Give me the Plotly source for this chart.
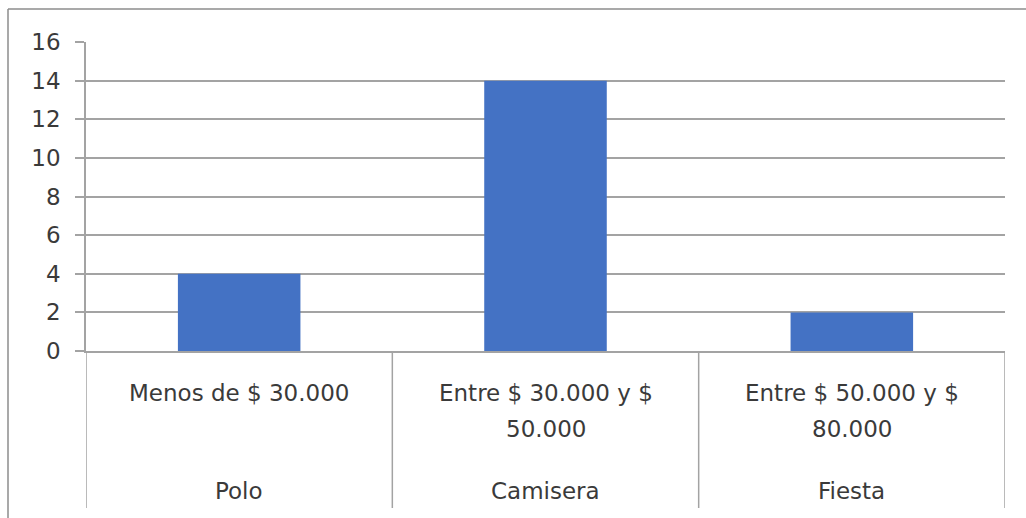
import plotly.graph_objects as go

# Price range (inner category level) and garment type (outer level)
price_ranges = ["Menos de $ 30.000", "Entre $ 30.000 y $\n50.000", "Entre $ 50.000 y $\n80.000"]
garment_types = ["Polo", "Camisera", "Fiesta"]
counts = [4, 14, 2]
y_ticks = [0, 2, 4, 6, 8, 10, 12, 14, 16]

W, H = 1026, 518
PLOT_L, PLOT_R, PLOT_T, PLOT_B = 86, 1005, 42, 351
plot_w = PLOT_R - PLOT_L
plot_h = PLOT_B - PLOT_T

GRID = "#a3a3a3"
TEXT = "#3a3a3a"
FONT = "DejaVu Sans"
FSIZE = 23


def py_to_paper(py):
    return (PLOT_B - py) / plot_h


def px_to_paper(px):
    return (px - PLOT_L) / plot_w


xs = list(range(len(counts)))

fig = go.Figure(
    go.Bar(
        x=xs,
        y=counts,
        marker=dict(color="#4472C4", line=dict(width=0)),
        width=0.4,
        hoverinfo="skip",
    )
)

shapes = []
# Category separators hanging below the axis
for b in [i - 0.5 for i in range(len(counts) + 1)]:
    shapes.append(dict(type="line", xref="x", yref="paper", x0=b, x1=b,
                       y0=0, y1=py_to_paper(508), line=dict(color=GRID, width=1.5)))
# Chart-area border (top and left edges)
shapes.append(dict(type="line", xref="paper", yref="paper",
                   x0=px_to_paper(8), x1=px_to_paper(1040),
                   y0=py_to_paper(9), y1=py_to_paper(9),
                   line=dict(color="#8c8c8c", width=1.5)))
shapes.append(dict(type="line", xref="paper", yref="paper",
                   x0=px_to_paper(8), x1=px_to_paper(8),
                   y0=py_to_paper(9), y1=py_to_paper(530),
                   line=dict(color="#8c8c8c", width=1.5)))

annotations = []
line_rows = [393, 429]
for i, label in enumerate(price_ranges):
    for j, part in enumerate(label.split("\n")):
        annotations.append(dict(x=xs[i], y=py_to_paper(line_rows[j]), xref="x", yref="paper",
                                text=part, showarrow=False, xanchor="center", yanchor="middle",
                                font=dict(family=FONT, size=FSIZE, color=TEXT)))
for i, g in enumerate(garment_types):
    annotations.append(dict(x=xs[i], y=py_to_paper(491), xref="x", yref="paper",
                            text=g, showarrow=False, xanchor="center", yanchor="middle",
                            font=dict(family=FONT, size=FSIZE, color=TEXT)))

fig.update_layout(
    width=W, height=H, autosize=False,
    margin=dict(l=PLOT_L, r=W - PLOT_R, t=PLOT_T, b=H - PLOT_B, pad=0),
    paper_bgcolor="white", plot_bgcolor="white",
    showlegend=False,
    shapes=shapes,
    annotations=annotations,
    xaxis=dict(range=[-0.5, len(counts) - 0.5], showticklabels=False, ticks="",
               showgrid=False, zeroline=False, showline=True, linecolor=GRID, linewidth=1.5,
               fixedrange=True),
    yaxis=dict(range=[0, 16], tickvals=y_ticks, ticks="outside", ticklen=9,
               tickcolor=GRID, tickwidth=1.5, showgrid=True, gridcolor=GRID, gridwidth=1.5,
               zeroline=False, showline=True, linecolor=GRID, linewidth=1.5,
               ticklabelstandoff=10,
               tickfont=dict(family=FONT, size=FSIZE, color=TEXT), fixedrange=True),
)

fig.write_html("out.html")
